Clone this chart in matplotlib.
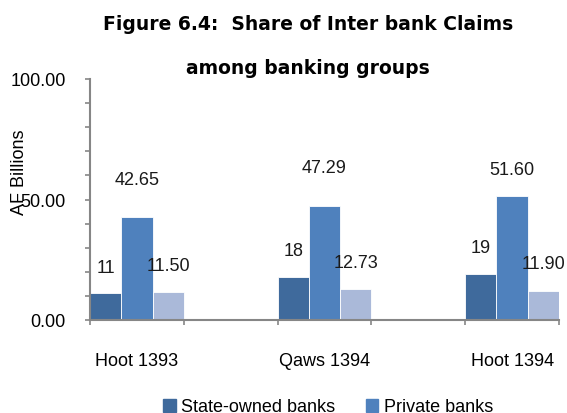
import numpy as np
import matplotlib
matplotlib.use('Agg')
import matplotlib.pyplot as plt
from matplotlib.patches import Patch

periods = ['Hoot 1393', 'Qaws 1394', 'Hoot 1394']
state_owned = [11, 18, 19]
private = [42.65, 47.29, 51.60]
foreign = [11.50, 12.73, 11.90]
state_labels = ['11', '18', '19']
private_labels = ['42.65', '47.29', '51.60']
foreign_labels = ['11.50', '12.73', '11.90']

c_state = '#3F6A9C'
c_private = '#4F81BD'
c_foreign = '#AAB9D9'
axis_col = '#868686'

plt.rcParams['font.family'] = ['Liberation Sans', 'DejaVu Sans']

fig = plt.figure(figsize=(5.67, 4.14), dpi=100)
ax = fig.add_axes([90 / 567, 1 - 321 / 414, 469 / 567, 241 / 414])

# groups sit on every second slot, empty slot between them
x = np.arange(len(periods)) * 2
w = 1 / 3

series = [(state_owned, state_labels, c_state, -w),
          (private, private_labels, c_private, 0),
          (foreign, foreign_labels, c_foreign, w)]
# label heights above bar tops (points)
offsets = [[19, 19, 19], [27, 28, 19], [19, 19, 20]]

for (vals, labs, col, dx), offs in zip(series, offsets):
    ax.bar(x + dx, vals, width=w, color=col, edgecolor='white', linewidth=0.6)
    for xi, v, lab, off in zip(x + dx, vals, labs, offs):
        ax.annotate(lab, (xi, v), xytext=(0, off), textcoords='offset points',
                    ha='center', va='center', fontsize=13, color='#1a1a1a')

ax.set_xlim(-0.5, 4.5)
ax.set_ylim(0, 100)
ax.set_yticks([0, 50, 100])
ax.set_yticklabels(['0.00', '50.00', '100.00'])
ax.set_yticks(np.arange(0, 101, 10), minor=True)
ax.tick_params(axis='y', which='both', direction='out', length=3.6, color=axis_col,
               labelsize=13, pad=14, width=1.2)
ax.set_xticks(np.arange(-0.5, 4.6, 1))
ax.set_xticklabels([])
ax.set_xticks(x, minor=True)
ax.set_xticklabels(periods, minor=True)
ax.tick_params(axis='x', which='major', direction='out', length=3.6, color=axis_col, width=1.2)
ax.tick_params(axis='x', which='minor', length=0, labelsize=13, pad=23)

for s in ['top', 'right']:
    ax.spines[s].set_visible(False)
for s in ['left', 'bottom']:
    ax.spines[s].set_color(axis_col)
    ax.spines[s].set_linewidth(1.5)

fig.text(308 / 567, 1 - 25 / 414, 'Figure 6.4:  Share of Inter bank Claims',
         ha='center', va='center', fontsize=13.5, fontweight='bold', family='DejaVu Sans')
fig.text(308 / 567, 1 - 68 / 414, 'among banking groups',
         ha='center', va='center', fontsize=13.5, fontweight='bold', family='DejaVu Sans')
fig.text(19 / 567, 1 - 172 / 414, 'AF Billions', rotation=90,
         ha='center', va='center', fontsize=13)

handles = [Patch(color=c_state), Patch(color=c_private)]
fig.legend(handles, ['State-owned banks', 'Private banks'], loc='center',
           bbox_to_anchor=(328 / 567, 1 - 408 / 414), ncol=2, frameon=False,
           fontsize=13, handlelength=0.7, handleheight=0.7, handletextpad=0.3,
           columnspacing=1.7)

fig.savefig('out.png', dpi=100)
